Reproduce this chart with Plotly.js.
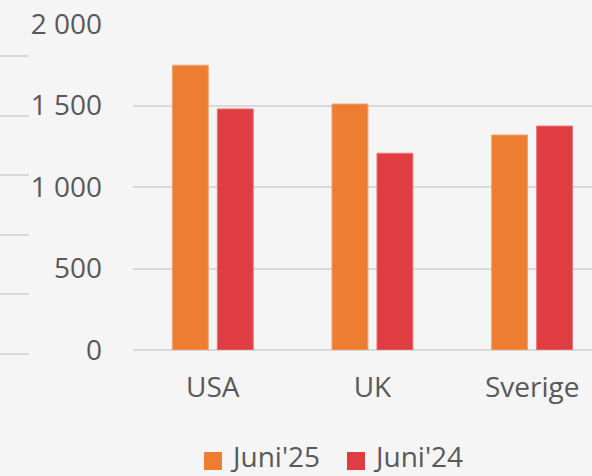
<!DOCTYPE html>
<html><head><meta charset="utf-8">
<script src="https://cdn.plot.ly/plotly-3.0.1.min.js"></script>
<style>html,body{margin:0;padding:0;background:#f5f5f5;}#chart{width:592px;height:476px;}</style>
</head><body><div id="chart"></div>
<script>
const categories = ["USA", "UK", "Sverige"];
const juni25 = [1747, 1509, 1319];
const juni24 = [1479, 1207, 1374];
const seriesNames = ["Juni'25", "Juni'24"];
const seriesColors = ["#ED7D31", "#DF3D41"];
const yTicks = [0, 500, 1000, 1500, 2000];
const yTickLabels = ["0", "500", "1 000", "1 500", "2 000"];

const font = {family: "Open Sans, sans-serif", size: 28, color: "#595959"};
const px = v => (v - 133) / 459;
const py = v => (350 - v) / 326;

const shapes = [56, 116, 175, 235, 294, 354].map(y => ({
  type: "line", xref: "paper", yref: "paper",
  x0: px(0), x1: px(29), y0: py(y), y1: py(y),
  line: {color: "#d9d9d9", width: 2}
}));
// custom legend
const legX = [204, 347];
const annotations = [];
seriesNames.forEach((n, i) => {
  shapes.push({type: "rect", xref: "paper", yref: "paper",
    x0: px(legX[i]), x1: px(legX[i] + 18), y0: py(470), y1: py(452),
    fillcolor: seriesColors[i], line: {width: 0}});
  annotations.push({xref: "paper", yref: "paper", x: px(legX[i] + 24), y: py(455.5),
    xanchor: "left", yanchor: "middle", text: n, showarrow: false, font: font});
});

const data = [
  {type: "bar", name: seriesNames[0], x: categories, y: juni25,
   marker: {color: seriesColors[0], line: {color: "#f3a26c", width: 1}}, width: 0.225, offset: -0.2536, hoverinfo: "none"},
  {type: "bar", name: seriesNames[1], x: categories, y: juni24,
   marker: {color: seriesColors[1], line: {color: "#e8777a", width: 1}}, width: 0.225, offset: 0.0282, hoverinfo: "none"}
];
const layout = {
  width: 592, height: 476,
  paper_bgcolor: "#f5f5f5", plot_bgcolor: "#f5f5f5",
  margin: {l: 133, r: 0, t: 24, b: 126},
  font: font,
  barmode: "overlay",
  showlegend: false,
  xaxis: {range: [-0.5, 2.375], showgrid: false, zeroline: false, showline: false,
    ticks: "", tickfont: font, fixedrange: true, ticklabelstandoff: 18},
  yaxis: {range: [0, 2000], tickvals: yTicks, ticktext: yTickLabels,
    showgrid: true, gridcolor: "#d9d9d9", gridwidth: 2, zeroline: true, zerolinecolor: "#d9d9d9", zerolinewidth: 2,
    showline: false, ticks: "", tickfont: font, ticklabelstandoff: 30, fixedrange: true},
  shapes: shapes,
  annotations: annotations
};
Plotly.newPlot("chart", data, layout, {staticPlot: true, displayModeBar: false});
</script></body></html>
